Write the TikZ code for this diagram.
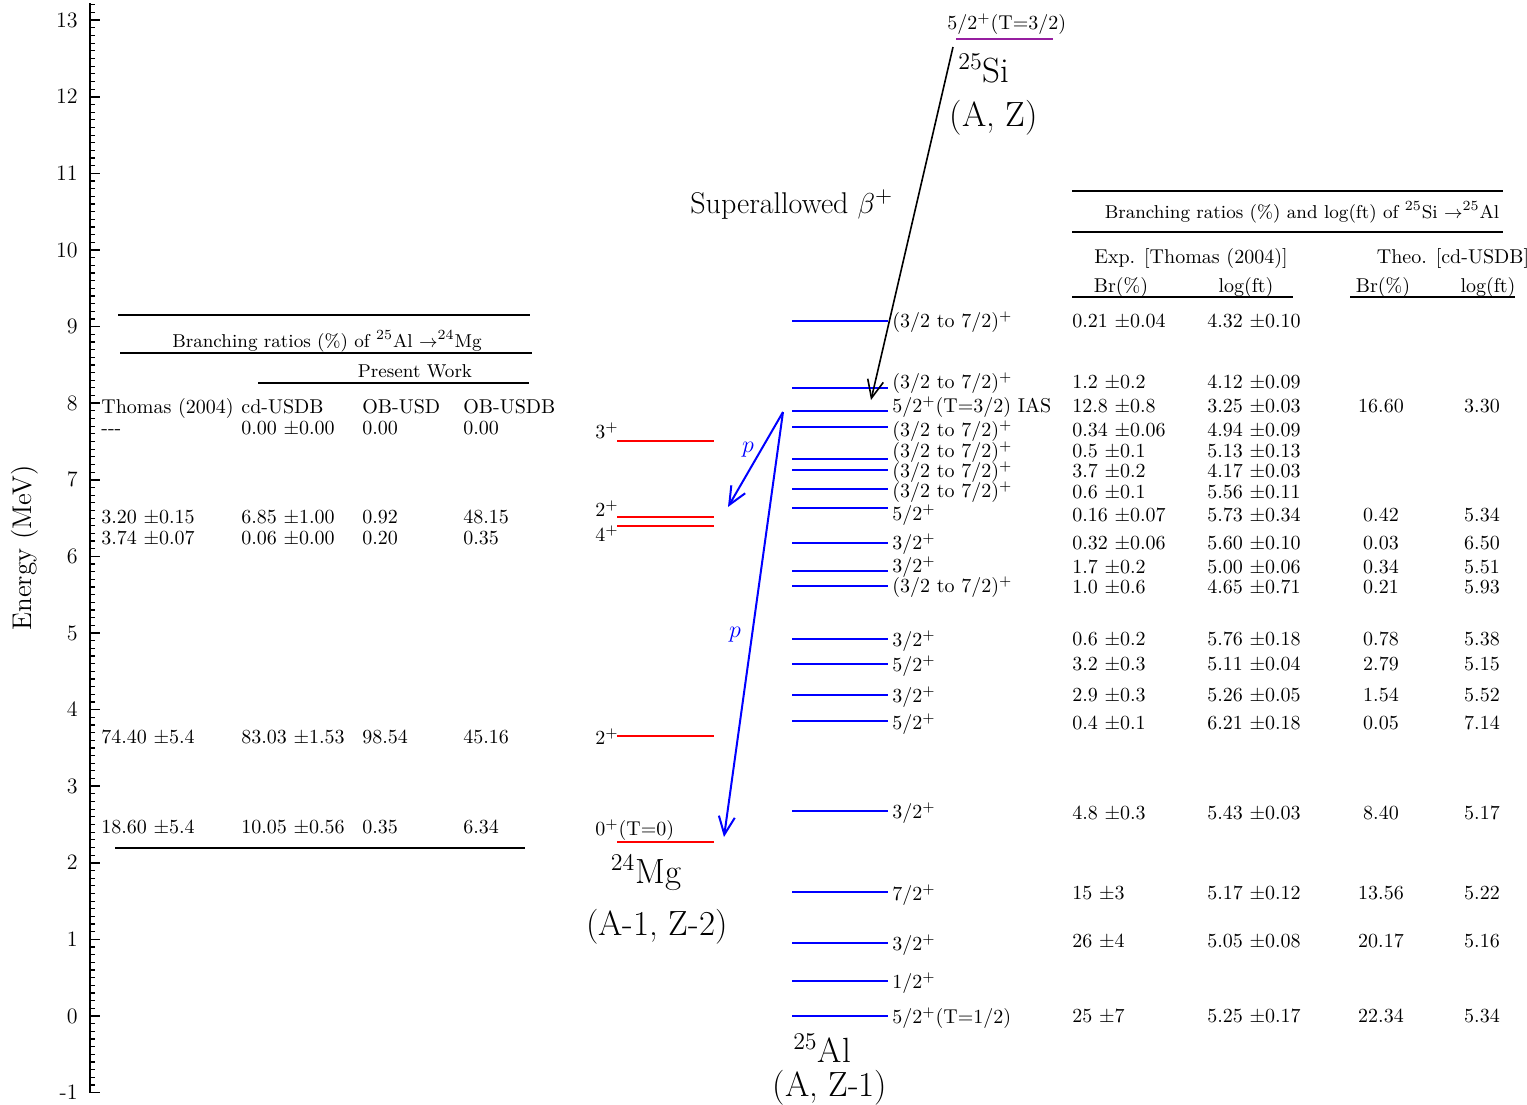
\documentclass[tikz,border=0pt]{standalone}
\usepackage{fontspec}
\usetikzlibrary{arrows.meta}
\definecolor{silev}{RGB}{150,30,160}
\newcommand{\jtr}{(3/2 to 7/2)$^{+}$}
\newcommand{\AlLev}[4]{%
  \draw[allev] (792,#1) coordinate (#4l) -- (888,#1) coordinate (#4r);
  \node[txt] (#4t) at (892,#2) {#3};}
\newcommand{\MgLev}[4]{%
  \draw[mglev] (617,#1) coordinate (#4l) -- (714,#1) coordinate (#4r);
  \node[txt] (#4t) at (595,#2) {#3};}
\newcommand{\BrRow}[5]{%
  \node[txt] (b#1a) at (1072,#1) {#2};
  \node[txt] (b#1b) at (1207,#1) {#3};
  \node[ctxt] (b#1c) at (1381,#1) {#4};
  \node[ctxt] (b#1d) at (1482,#1) {#5};}
\newcommand{\MgRow}[5]{%
  \node[txt] (m#1a) at (101,#1) {#2};
  \node[txt] (m#1b) at (241,#1) {#3};
  \node[txt] (m#1c) at (362,#1) {#4};
  \node[txt] (m#1d) at (463,#1) {#5};}
\begin{document}
\begin{tikzpicture}[x=0.5pt,y=-0.5pt,
  txt/.style={anchor=west,inner sep=0pt,text height=6.5pt,text depth=0pt,font=\fontsize{10}{12}\selectfont},
  ctxt/.style={txt,anchor=center},
  ttl/.style={ctxt,font=\fontsize{9.3}{11}\selectfont},
  ticklab/.style={anchor=east,inner sep=0pt,text height=7pt,text depth=0pt,font=\fontsize{11}{13}\selectfont},
  big/.style={inner sep=0pt,font=\fontsize{17.5}{21}\selectfont,anchor=base},
  allev/.style={blue,line width=1pt},
  mglev/.style={red,line width=1pt},
  tabrule/.style={line width=0.9pt},
  barb/.style={-{Straight Barb[length=9pt,width=8pt]}},
]
\useasboundingbox (0,0) rectangle (1527,1104);
% axis
\draw[line width=1pt] (90,3) coordinate (axtop) -- (90,1093) coordinate (axbot);
\foreach \i in {-10,...,132} \draw[line width=0.6pt] (90,{1016-7.66*\i}) -- ++(5,0);
\foreach \e in {-1,...,13} {
  \draw[line width=0.8pt] (90,{1016-76.6*\e}) -- ++(10,0);
  \node[ticklab] (tk\e) at (78,{1016-76.6*\e}) {\e};
}
\node[rotate=90,inner sep=0pt,font=\fontsize{13.5}{16}\selectfont] (ylab) at (25,548) {Energy (MeV)};

% left table
\draw[tabrule] (118,315) -- (530,315);
\node[ttl] (lt) at (327,341) {Branching ratios (\%) of $^{25}$Al $\rightarrow^{24}$Mg};
\draw[tabrule] (120,353) -- (532,353);
\node[ttl] (pw) at (415,371) {Present Work};
\draw[tabrule] (258,383) -- (529,383);
\MgRow{407}{Thomas (2004)}{cd-USDB}{OB-USD}{OB-USDB}
\MgRow{428}{{-}{-}{-}}{0.00 $\pm$0.00}{0.00}{0.00}
\MgRow{517}{3.20 $\pm$0.15}{6.85 $\pm$1.00}{0.92}{48.15}
\MgRow{538}{3.74 $\pm$0.07}{0.06 $\pm$0.00}{0.20}{0.35}
\MgRow{737}{74.40 $\pm$5.4}{83.03 $\pm$1.53}{98.54}{45.16}
\MgRow{827}{18.60 $\pm$5.4}{10.05 $\pm$0.56}{0.35}{6.34}
\draw[tabrule] (115,848) -- (525,848);

% 24Mg levels
\MgLev{440.7}{432}{3$^{+}$}{g4}
\MgLev{517.3}{510}{2$^{+}$}{g3}
\MgLev{525.7}{535}{4$^{+}$}{g2}
\MgLev{736}{738}{2$^{+}$}{g1}
\MgLev{841.7}{829}{0$^{+}$(T=0)}{g0}
\node[big] (mgname) at (646,883) {$^{24}$Mg};
\node[big] (mgaz) at (657,935) {(A-1, Z-2)};

% 25Al levels
\AlLev{320.7}{321}{\jtr}{a20}
\AlLev{387.7}{382}{\jtr}{a19}
\AlLev{410.7}{406}{5/2$^{+}$(T=3/2) IAS}{ias}
\AlLev{426.7}{430}{\jtr}{a17}
\AlLev{459}{451}{\jtr}{a16}
\AlLev{470.3}{471}{\jtr}{a15}
\AlLev{489}{491}{\jtr}{a14}
\AlLev{508.3}{514}{5/2$^{+}$}{a13}
\AlLev{542.7}{543}{3/2$^{+}$}{a12}
\AlLev{571}{566}{3/2$^{+}$}{a11}
\AlLev{585.7}{586}{\jtr}{a10}
\AlLev{639}{640}{3/2$^{+}$}{a9}
\AlLev{664}{665}{5/2$^{+}$}{a8}
\AlLev{694.7}{696}{3/2$^{+}$}{a7}
\AlLev{721}{723}{5/2$^{+}$}{a6}
\AlLev{810.7}{812}{3/2$^{+}$}{a5}
\AlLev{892}{894}{7/2$^{+}$}{a4}
\AlLev{942.7}{944}{3/2$^{+}$}{a3}
\AlLev{981}{982}{1/2$^{+}$}{a2}
\AlLev{1015.7}{1017}{5/2$^{+}$(T=1/2)}{a1}
\node[big] (alname) at (822,1062) {$^{25}$Al};
\node[big] (alaz) at (830,1096) {(A, Z-1)};

% 25Si
\draw[silev,line width=1pt] (956,39) coordinate (sil) -- (1053,39) coordinate (sir);
\node[txt] (silab) at (947,23) {5/2$^{+}$(T=3/2)};
\node[big] (siname) at (984,82) {$^{25}$Si};
\node[big] (siaz) at (994,126) {(A, Z)};
\node[inner sep=0pt,anchor=base west,font=\fontsize{15}{18}\selectfont] (sa) at (690,213) {Superallowed $\beta^{+}$};

% arrows
\coordinate (bstart) at (953,47);
\coordinate (bend) at (871,400);
\draw[line width=0.8pt,barb] (bstart) -- (bend);
\coordinate (pstart) at (783,412);
\coordinate (p1end) at (728,507);
\coordinate (p2end) at (724,837);
\draw[blue,line width=1pt,barb] (pstart) -- (p1end);
\draw[blue,line width=1pt,barb] (pstart) -- (p2end);
\node[blue,inner sep=0pt,font=\fontsize{11.5}{13}\selectfont] (p1) at (748,450) {$p$};
\node[blue,inner sep=0pt,font=\fontsize{11.5}{13}\selectfont] (p2) at (735,635) {$p$};

% right table
\draw[tabrule] (1072,191) -- (1503,191);
\node[ttl] (rtitle) at (1302,212) {Branching ratios (\%) and log(ft) of $^{25}$Si $\rightarrow^{25}$Al};
\draw[tabrule] (1072,232) -- (1503,232);
\node[ctxt] (exph) at (1191,257) {Exp. [Thomas (2004)]};
\node[ctxt] (theoh) at (1453,257) {Theo. [cd-USDB]};
\node[ctxt] (brh1) at (1121,286) {Br(\%)};
\node[ctxt] (lfh1) at (1246,286) {log(ft)};
\node[ctxt] (brh2) at (1383,286) {Br(\%)};
\node[ctxt] (lfh2) at (1488,286) {log(ft)};
\draw[tabrule] (1072,297) -- (1293,297);
\draw[tabrule] (1350,297) -- (1515,297);
\BrRow{321}{0.21 $\pm$0.04}{4.32 $\pm$0.10}{}{}
\BrRow{382}{1.2 $\pm$0.2}{4.12 $\pm$0.09}{}{}
\BrRow{406}{12.8 $\pm$0.8}{3.25 $\pm$0.03}{16.60}{3.30}
\BrRow{430}{0.34 $\pm$0.06}{4.94 $\pm$0.09}{}{}
\BrRow{451}{0.5 $\pm$0.1}{5.13 $\pm$0.13}{}{}
\BrRow{471}{3.7 $\pm$0.2}{4.17 $\pm$0.03}{}{}
\BrRow{492}{0.6 $\pm$0.1}{5.56 $\pm$0.11}{}{}
\BrRow{515}{0.16 $\pm$0.07}{5.73 $\pm$0.34}{0.42}{5.34}
\BrRow{543}{0.32 $\pm$0.06}{5.60 $\pm$0.10}{0.03}{6.50}
\BrRow{567}{1.7 $\pm$0.2}{5.00 $\pm$0.06}{0.34}{5.51}
\BrRow{587}{1.0 $\pm$0.6}{4.65 $\pm$0.71}{0.21}{5.93}
\BrRow{639}{0.6 $\pm$0.2}{5.76 $\pm$0.18}{0.78}{5.38}
\BrRow{664}{3.2 $\pm$0.3}{5.11 $\pm$0.04}{2.79}{5.15}
\BrRow{695}{2.9 $\pm$0.3}{5.26 $\pm$0.05}{1.54}{5.52}
\BrRow{723}{0.4 $\pm$0.1}{6.21 $\pm$0.18}{0.05}{7.14}
\BrRow{813}{4.8 $\pm$0.3}{5.43 $\pm$0.03}{8.40}{5.17}
\BrRow{893}{15 $\pm$3}{5.17 $\pm$0.12}{13.56}{5.22}
\BrRow{941}{26 $\pm$4}{5.05 $\pm$0.08}{20.17}{5.16}
\BrRow{1016}{25 $\pm$7}{5.25 $\pm$0.17}{22.34}{5.34}
\end{tikzpicture}
\end{document}
